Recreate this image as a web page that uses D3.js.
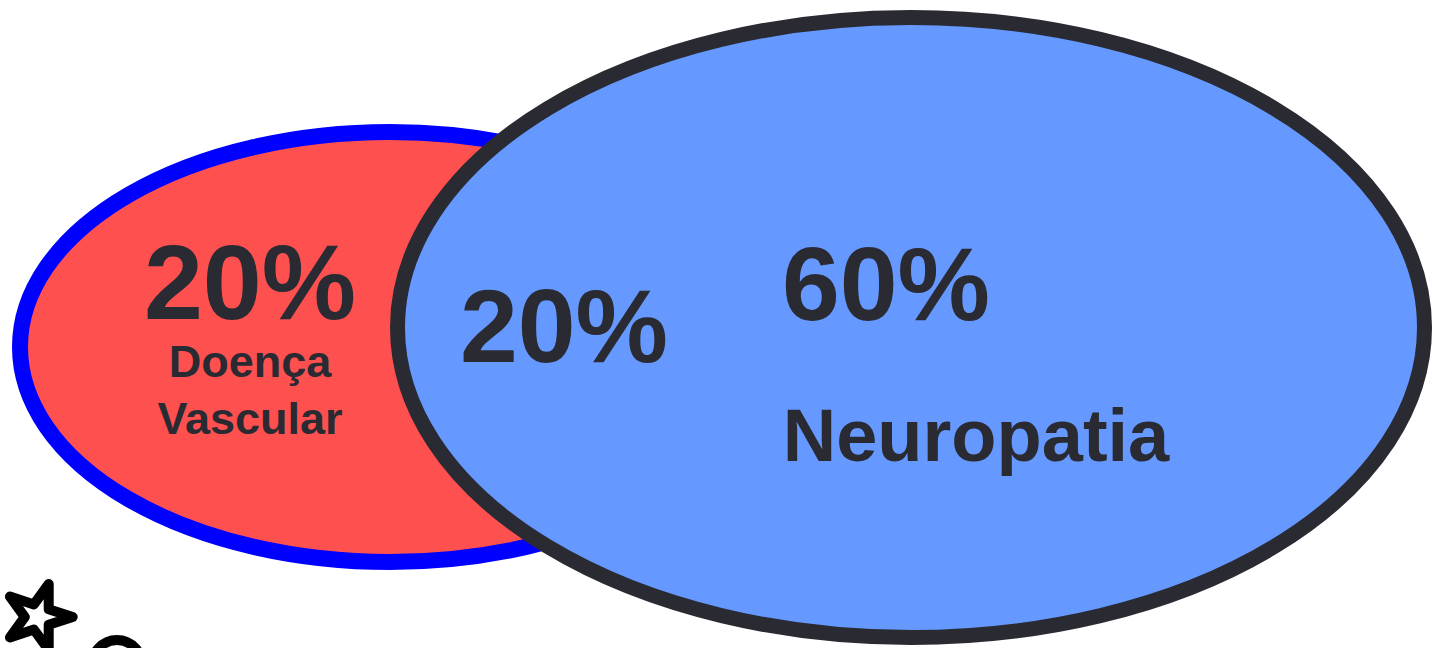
<!DOCTYPE html>
<html><head><meta charset="utf-8">
<script src="https://cdn.jsdelivr.net/npm/d3@7"></script>
<style>html,body{margin:0;padding:0;background:#fff;}svg{display:block;}</style>
</head><body>
<svg id="c" width="1434" height="648"></svg>
<script>
const sets = ["Doença Vascular", "Neuropatia"];
const onlyShares = [20, 60];
const overlapShare = [20];
const setLabelLines = [["Doença", "Vascular"], ["Neuropatia"]];

const svg = d3.select("#c");
const W = 1434, H = 648;
const x = d3.scaleLinear().domain([0, 1434]).range([0, W]);
const y = d3.scaleLinear().domain([0, 648]).range([0, H]);
const ink = "#2a2a33";
const font = "'Liberation Sans', Arial, sans-serif";

// red ellipse (Doença Vascular)
svg.append("ellipse").attr("cx", x(390)).attr("cy", y(347)).attr("rx", 370).attr("ry", 215)
  .attr("fill", "#ff5050").attr("stroke", "#0000ff").attr("stroke-width", 16);
// blue ellipse (Neuropatia)
svg.append("ellipse").attr("cx", x(911)).attr("cy", y(327.5)).attr("rx", 513.5).attr("ry", 310)
  .attr("fill", "#6699ff").attr("stroke", ink).attr("stroke-width", 15);

const pct = d => d + "%";
// red-only
svg.append("text").attr("x", x(250)).attr("y", y(319)).attr("text-anchor", "middle")
  .attr("font-family", font).attr("font-weight", "bold").attr("font-size", 106).attr("fill", ink)
  .text(pct(onlyShares[0]));
setLabelLines[0].forEach((t, i) => {
  svg.append("text").attr("x", x(250)).attr("y", y(377 + i * 57)).attr("text-anchor", "middle")
    .attr("font-family", font).attr("font-weight", "bold").attr("font-size", 45).attr("fill", ink).text(t);
});
// overlap
svg.append("text").attr("x", x(564)).attr("y", y(362)).attr("text-anchor", "middle")
  .attr("font-family", font).attr("font-weight", "bold").attr("font-size", 104).attr("fill", ink)
  .text(pct(overlapShare[0]));
// blue-only
svg.append("text").attr("x", x(886)).attr("y", y(320)).attr("text-anchor", "middle")
  .attr("font-family", font).attr("font-weight", "bold").attr("font-size", 104).attr("fill", ink)
  .text(pct(onlyShares[1]));
svg.append("text").attr("x", x(976)).attr("y", y(461)).attr("text-anchor", "middle")
  .attr("font-family", font).attr("font-weight", "bold").attr("font-size", 74).attr("fill", ink)
  .text(setLabelLines[1][0]);

// decorative star and arc at bottom-left
svg.append("path").attr("d", d3.symbol().type(d3.symbolStar).size(1350)())
  .attr("transform", `translate(${x(38)},${y(617)}) rotate(18)`)
  .attr("fill", "#fff").attr("stroke", "#000").attr("stroke-width", 10).attr("stroke-linejoin", "round");
svg.append("ellipse").attr("cx", x(117)).attr("cy", y(668)).attr("rx", 26).attr("ry", 28)
  .attr("fill", "#fff").attr("stroke", "#000").attr("stroke-width", 10);
</script>
</body></html>
